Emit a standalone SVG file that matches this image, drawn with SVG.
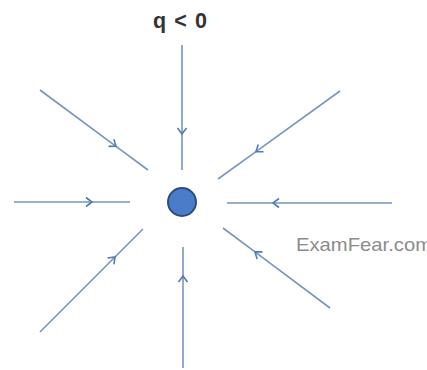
<svg xmlns="http://www.w3.org/2000/svg" width="427" height="370" viewBox="0 0 427 370">
<style>
.fl{fill:none;stroke:#7895bb;stroke-width:1.6;marker-mid:url(#chev)}
.lbl{font-family:"Liberation Sans",Arial,sans-serif}
</style>
<defs>
<marker id="chev" markerUnits="userSpaceOnUse" markerWidth="12" markerHeight="12" viewBox="-7 -6 12 12" refX="0" refY="0" orient="auto">
<path d="M-6,-4.5 L0,0 L-6,4.5" fill="none" stroke="#4f7ab3" stroke-width="1.6"/>
</marker>
</defs>
<rect width="427" height="370" fill="#ffffff"/>
<g id="connectors">
<path class="fl" d="M182,45 L182,134 L182,170"/>
<path class="fl" d="M40,90 L116,146.3 L148,170"/>
<path class="fl" d="M14,202 L92,202 L130,202"/>
<path class="fl" d="M340,91 L256,151.6 L218,179"/>
<path class="fl" d="M392,203 L273,203 L227,203"/>
<path class="fl" d="M40,332 L115,257 L143,229"/>
<path class="fl" d="M183,368 L183,276 L183,247"/>
<path class="fl" d="M330,308 L255,251.9 L223,228"/>
</g>
<g id="charge">
<circle cx="182" cy="202" r="14" fill="#4a7cc9" stroke="#2e4d7c" stroke-width="2"/>
</g>
<g id="label-q">
<text class="lbl" x="153" y="28" font-size="21.5" font-weight="bold" fill="#333333" textLength="54" lengthAdjust="spacing" xml:space="preserve">q &lt; 0</text>
</g>
<g id="watermark">
<text class="lbl" x="296" y="251" font-size="18.5" fill="#8c8c8c" textLength="136" lengthAdjust="spacingAndGlyphs">ExamFear.com</text>
</g>
</svg>
